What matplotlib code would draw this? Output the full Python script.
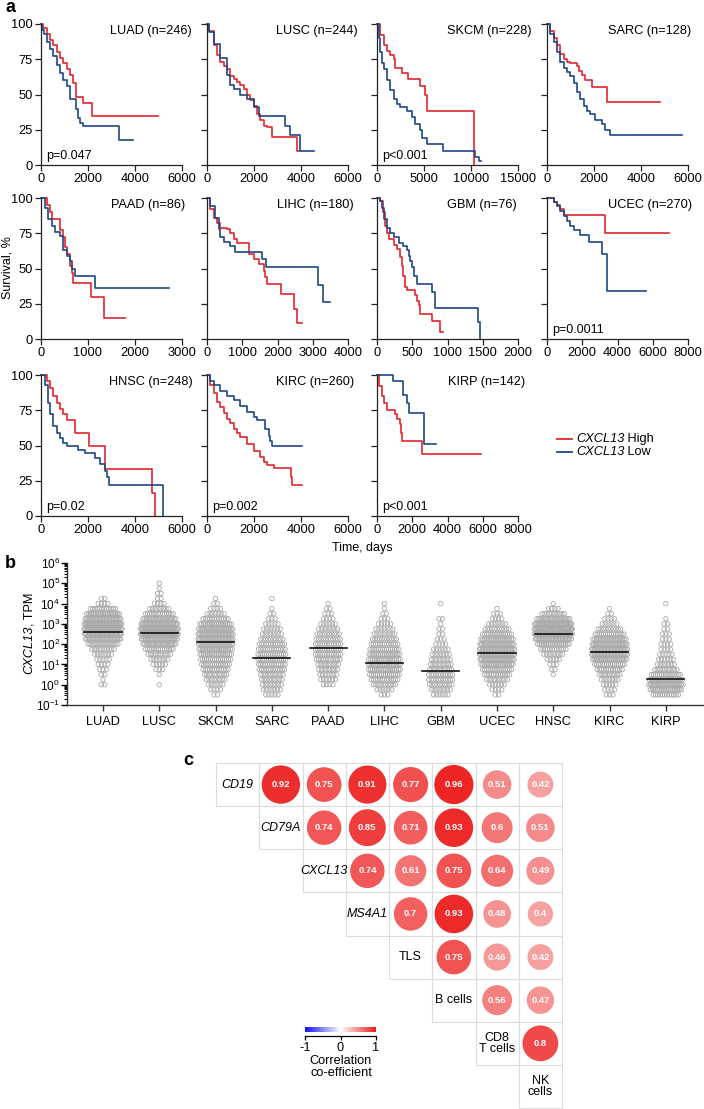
import numpy as np
import matplotlib
matplotlib.use('Agg')
import matplotlib.pyplot as plt
from matplotlib.colors import LinearSegmentedColormap, Normalize
from matplotlib.lines import Line2D
from matplotlib.patches import Rectangle
from matplotlib.ticker import LogLocator, LogFormatterMathtext, NullFormatter

plt.rcParams['font.family'] = 'Liberation Sans'
plt.rcParams['mathtext.fontset'] = 'custom'
plt.rcParams['mathtext.rm'] = 'Liberation Sans'
plt.rcParams['mathtext.it'] = 'Liberation Sans:italic'
plt.rcParams['mathtext.bf'] = 'Liberation Sans:bold'

#%% data - panel a (Kaplan-Meier, (day, survival %) steps)

km_names = ['LUAD', 'LUSC', 'SKCM', 'SARC', 'PAAD', 'LIHC', 'GBM', 'UCEC', 'HNSC', 'KIRC', 'KIRP']
km_n = [246, 244, 228, 128, 86, 180, 76, 270, 248, 260, 142]
km_p = ['p=0.047', None, 'p<0.001', None, None, None, None, 'p=0.0011', 'p=0.02', 'p=0.002', 'p<0.001']
km_xmax = [6000, 6000, 15000, 6000, 3000, 4000, 2000, 8000, 6000, 6000, 8000]
km_xstep = [2000, 2000, 5000, 2000, 1000, 1000, 500, 2000, 2000, 2000, 2000]

luad_high = [(0, 100), (100, 97), (240, 93), (380, 89), (520, 85), (660, 80), (800, 76), (950, 72), (1090, 68),
             (1230, 64), (1370, 58), (1480, 52), (1510, 48), (1790, 44), (2190, 35), (4970, 35)]
luad_low = [(0, 100), (60, 96), (130, 93), (240, 87), (380, 82), (520, 77), (660, 71), (800, 65), (950, 60),
            (1090, 56), (1230, 47), (1480, 40), (1580, 33), (1650, 30), (1770, 28), (3320, 18), (3910, 18)]
lusc_high = [(0, 100), (70, 95), (280, 85), (425, 78), (570, 73), (710, 70), (850, 68), (990, 63), (1135, 61),
             (1280, 59), (1420, 57), (1560, 54), (1700, 50), (1840, 46), (1990, 42), (2130, 36), (2270, 32),
             (2410, 28), (2550, 27), (2770, 20), (3830, 10), (3900, 10)]
lusc_low = [(0, 100), (70, 94), (280, 86), (570, 76), (850, 64), (990, 57), (1135, 54), (1420, 50), (1700, 47),
            (1990, 41), (2200, 35), (3330, 28), (3550, 21), (3940, 10), (4540, 10)]
skcm_high = [(0, 100), (350, 92), (700, 85), (1060, 81), (1410, 78), (1760, 75), (1940, 69), (2640, 65),
             (3350, 61), (4580, 56), (5100, 50), (5280, 38), (10320, 0)]
skcm_low = [(0, 100), (180, 90), (350, 80), (530, 72), (700, 68), (1060, 60), (1410, 53), (1760, 47), (2110, 43),
            (2460, 41), (3170, 38), (3700, 34), (4050, 29), (4580, 25), (4800, 19), (5280, 15), (7000, 10),
            (10400, 6), (10900, 3), (11100, 3)]
sarc_high = [(0, 100), (140, 95), (280, 90), (425, 85), (570, 79), (710, 75), (850, 73), (990, 72), (1280, 70),
             (1350, 67), (1490, 64), (1630, 60), (1915, 55), (2550, 45), (4820, 45)]
sarc_low = [(0, 100), (140, 93), (280, 87), (425, 80), (570, 73), (710, 69), (850, 66), (990, 63), (1135, 58),
            (1280, 52), (1420, 47), (1560, 42), (1700, 38), (1840, 36), (2060, 32), (2340, 29), (2480, 25),
            (2670, 21), (5740, 21)]
paad_high = [(0, 100), (120, 95), (190, 90), (225, 85), (400, 77), (470, 72), (510, 65), (545, 60), (610, 52),
             (650, 47), (685, 40), (1060, 30), (1330, 15), (1780, 15)]
paad_low = [(0, 100), (85, 93), (155, 85), (225, 80), (300, 76), (400, 73), (470, 63), (545, 59), (610, 55),
            (650, 50), (720, 45), (1140, 36), (2730, 36)]
lihc_high = [(0, 100), (95, 92), (190, 86), (285, 82), (380, 79), (570, 78), (660, 75), (760, 71), (850, 68),
             (1180, 60), (1320, 57), (1465, 53), (1610, 48), (1650, 44), (1700, 39), (2100, 32), (2480, 21),
             (2550, 11), (2700, 11)]
lihc_low = [(0, 100), (95, 94), (240, 86), (330, 78), (380, 72), (470, 69), (660, 66), (800, 62), (1560, 57),
            (1680, 51), (3140, 38), (3290, 26), (3500, 26)]
gbm_high = [(0, 100), (47, 98), (85, 90), (120, 80), (140, 75), (165, 71), (235, 67), (280, 64), (330, 58),
            (355, 52), (375, 45), (400, 37), (420, 35), (540, 31), (565, 27), (590, 24), (610, 18), (775, 13),
            (895, 5), (940, 5)]
gbm_low = [(0, 100), (38, 98), (70, 93), (95, 85), (140, 79), (190, 75), (235, 72), (305, 68), (375, 66),
           (425, 63), (450, 59), (470, 55), (495, 51), (520, 45), (565, 39), (775, 33), (825, 22), (1435, 12),
           (1460, 0)]
ucec_high = [(0, 100), (380, 97), (570, 95), (760, 92), (945, 88), (3270, 75), (6900, 75)]
ucec_low = [(0, 100), (380, 97), (570, 94), (760, 91), (945, 87), (1130, 84), (1320, 80), (1510, 77), (1890, 74),
            (2360, 69), (3120, 60), (3400, 34), (5630, 34)]
hnsc_high = [(0, 100), (240, 96), (380, 91), (525, 85), (670, 80), (810, 76), (950, 72), (1090, 68), (1450, 59),
             (2060, 50), (2720, 33), (4710, 16), (4850, 0)]
hnsc_low = [(0, 100), (170, 93), (310, 80), (380, 72), (525, 64), (670, 59), (810, 55), (950, 52), (1090, 50),
            (1590, 47), (1870, 45), (2300, 41), (2510, 37), (2720, 32), (2790, 28), (2910, 22), (5180, 0)]
kirc_high = [(0, 100), (140, 93), (280, 87), (425, 81), (570, 77), (710, 73), (850, 69), (990, 66), (1135, 62),
             (1280, 59), (1420, 56), (1700, 51), (1990, 46), (2270, 42), (2410, 38), (2550, 36), (2840, 34),
             (3570, 28), (3620, 22), (4040, 22)]
kirc_low = [(0, 100), (140, 96), (280, 93), (570, 89), (850, 85), (1135, 82), (1420, 78), (1700, 74), (1990, 70),
            (2130, 68), (2480, 62), (2620, 57), (2700, 53), (2770, 50), (4040, 50)]
kirp_high = [(0, 100), (140, 92), (280, 85), (375, 80), (565, 75), (1035, 72), (1130, 69), (1280, 65),
             (1355, 59), (1430, 53), (2580, 44), (5900, 44)]
kirp_low = [(0, 100), (900, 96), (1470, 86), (1700, 80), (1790, 73), (2670, 51), (3350, 51)]

km_high = [luad_high, lusc_high, skcm_high, sarc_high, paad_high, lihc_high, gbm_high, ucec_high, hnsc_high,
           kirc_high, kirp_high]
km_low = [luad_low, lusc_low, skcm_low, sarc_low, paad_low, lihc_low, gbm_low, ucec_low, hnsc_low,
          kirc_low, kirp_low]
legend_words = ['High', 'Low']

#%% data - panel b (counts of samples per 0.25-decade bin of log10 TPM)

tpm_bins = [-0.5, -0.25, 0, 0.25, 0.5, 0.75, 1.0, 1.25, 1.5, 1.75, 2.0, 2.25, 2.5, 2.75, 3.0, 3.25, 3.5,
            3.75, 4.0, 4.25, 4.5, 4.75, 5.0]
tpm_counts = [
    [0, 0, 2, 1, 2, 3, 4, 5, 7, 10, 16, 24, 30, 34, 32, 26, 20, 12, 4, 2, 0, 0, 0],     # LUAD
    [0, 0, 1, 0, 1, 3, 5, 7, 10, 14, 20, 26, 32, 34, 28, 20, 14, 8, 4, 2, 2, 1, 1],     # LUSC
    [2, 4, 6, 8, 10, 12, 14, 16, 18, 20, 22, 24, 24, 22, 18, 12, 7, 4, 2, 1, 0, 0, 0],  # SKCM
    [5, 7, 8, 9, 10, 12, 13, 14, 14, 13, 12, 10, 8, 7, 5, 3, 2, 1, 0, 1, 0, 0, 0],      # SARC
    [0, 0, 4, 6, 7, 8, 9, 11, 12, 12, 12, 11, 10, 8, 6, 4, 3, 2, 1, 0, 0, 0, 0],        # PAAD
    [3, 6, 10, 13, 16, 18, 19, 18, 17, 15, 13, 11, 9, 7, 5, 3, 2, 1, 1, 0, 0, 0, 0],    # LIHC
    [6, 8, 10, 11, 11, 10, 9, 8, 7, 6, 4, 3, 2, 2, 1, 2, 0, 0, 1, 0, 0, 0, 0],          # GBM
    [2, 4, 6, 9, 12, 15, 19, 22, 24, 24, 22, 19, 15, 11, 7, 4, 3, 1, 0, 0, 0, 0, 0],    # UCEC
    [0, 0, 0, 0, 1, 2, 3, 5, 8, 12, 18, 26, 34, 36, 30, 20, 10, 4, 1, 0, 0, 0, 0],      # HNSC
    [3, 4, 5, 7, 9, 12, 16, 22, 26, 26, 24, 20, 15, 10, 6, 4, 2, 1, 0, 0, 0, 0, 0],     # KIRC
    [12, 18, 22, 20, 15, 10, 7, 6, 5, 4, 4, 3, 3, 2, 2, 1, 0, 0, 1, 0, 0, 0, 0],        # KIRP
]
tpm_median = [2.6, 2.55, 2.1, 1.33, 1.79, 1.05, 0.66, 1.56, 2.52, 1.59, 0.28]

#%% data - panel c (correlation, upper triangle)

corr_labels = ['CD19', 'CD79A', 'CXCL13', 'MS4A1', 'TLS', 'B cells', 'CD8\nT cells', 'NK\ncells']
corr_italic = [True, True, True, True, False, False, False, False]
corr_rows = [[0.92, 0.75, 0.91, 0.77, 0.96, 0.51, 0.42],
             [0.74, 0.85, 0.71, 0.93, 0.6, 0.51],
             [0.74, 0.61, 0.75, 0.64, 0.49],
             [0.7, 0.93, 0.48, 0.4],
             [0.75, 0.46, 0.42],
             [0.56, 0.47],
             [0.8]]

#%% layout helpers

W, H = 704, 1109
RED = '#e3262b'
BLUE = '#1f4785'


def rect(x, y, w, h):
    return [x / W, 1 - (y + h) / H, w / W, h / H]


fig = plt.figure(figsize=(W / 100, H / 100), dpi=100)

#%% panel a

col_x = [41, 207, 377, 547]
row_y = [24, 198, 375]
title_dx = [10, 10, 14, 3, 3, 6, -1, 4, 11, 6, 7]

for k, name in enumerate(km_names):
    r, c = divmod(k, 4)
    ax = fig.add_axes(rect(col_x[c], row_y[r], 141, 141))
    for curve, col in ((km_high[k], RED), (km_low[k], BLUE)):
        t, s = zip(*curve)
        ax.step(t, s, where='post', color=col, lw=1.2, clip_on=False)
    ax.set_xlim(0, km_xmax[k])
    ax.set_ylim(0, 100)
    ax.set_xticks(np.arange(0, km_xmax[k] + 1, km_xstep[k]))
    ax.set_yticks([0, 25, 50, 75, 100])
    if c != 0:
        ax.set_yticklabels([])
    for sp in ('top', 'right'):
        ax.spines[sp].set_visible(False)
    for sp in ('left', 'bottom'):
        ax.spines[sp].set_linewidth(0.9)
        ax.spines[sp].set_color('#222222')
    ax.tick_params(direction='out', length=4, width=0.9, labelsize=9.3, pad=2, color='#222222')
    ax.text(1 + title_dx[k] / 141, 0.95, f"{name} (n={km_n[k]})", transform=ax.transAxes,
            ha='right', va='center', fontsize=9.2)
    if km_p[k]:
        ax.text(0.035, 0.065, km_p[k], transform=ax.transAxes, ha='left', va='center', fontsize=9)

fig.text(8 / W, 1 - 268 / H, 'Survival, %', rotation=90, ha='center', va='center', fontsize=9)
fig.text(362 / W, 1 - 548 / H, 'Time, days', ha='center', va='center', fontsize=9)

# legend: line + italic gene name + plain group word
for yy, col, word in zip((439, 452), (RED, BLUE), legend_words):
    fig.add_artist(Line2D([557 / W, 572 / W], [1 - yy / H] * 2, color=col, lw=1.3))
    gene = fig.text(576 / W, 1 - yy / H, 'CXCL13', style='italic', fontsize=9.2, va='center', ha='left')
    ax.annotate(' ' + word, xy=(1, 0.5), xycoords=gene, ha='left', va='center', fontsize=9.2,
                annotation_clip=False)

#%% panel b

PX_PER_UNIT = 56.3
axb = fig.add_axes(rect(67, 563, 636, 142))
for k, counts in enumerate(tpm_counts):
    for b, n in enumerate(counts):
        if n == 0:
            continue
        # swarm row width in pixels grows with the number of points, saturating near 38 px
        width_px = min(4.2 * (n - 1), 40 * (1 - np.exp(-(n - 1) / 11)))
        xs = k + np.linspace(-width_px / 2, width_px / 2, n) / PX_PER_UNIT
        ys = np.full(n, 10.0 ** tpm_bins[b])
        axb.scatter(xs, ys, s=10, facecolors='none', edgecolors='#a8a8a8', linewidths=0.6, clip_on=False)
    axb.plot([k - 0.33, k + 0.33], [10 ** tpm_median[k]] * 2, color='#111111', lw=1.2)

axb.set_yscale('log')
axb.set_ylim(1e-1, 1e6)
axb.set_xlim(-0.64, 10.66)
axb.set_xticks(range(len(km_names)))
axb.set_xticklabels(km_names, fontsize=9.2)
axb.yaxis.set_major_locator(LogLocator(base=10, numticks=10))
axb.yaxis.set_major_formatter(LogFormatterMathtext())
axb.yaxis.set_minor_locator(LogLocator(base=10, subs=np.arange(2, 10), numticks=20))
axb.yaxis.set_minor_formatter(NullFormatter())
for sp in ('top', 'right'):
    axb.spines[sp].set_visible(False)
for sp in ('left', 'bottom'):
    axb.spines[sp].set_linewidth(1.0)
    axb.spines[sp].set_color('#333333')
axb.tick_params(axis='x', direction='out', length=4, width=1, pad=4, color='#333333')
axb.tick_params(axis='y', which='major', direction='out', length=4, width=1, labelsize=8.5, pad=1)
axb.tick_params(axis='y', which='minor', direction='out', length=2, width=0.7)

ylab = fig.text(29 / W, 1 - 674 / H, 'CXCL13', style='italic', rotation=90, fontsize=9.2,
                ha='center', va='bottom')
axb.annotate(', TPM', xy=(0.5, 1), xycoords=ylab, rotation=90, ha='center', va='bottom', fontsize=9.2,
             annotation_clip=False)

#%% panel c

axc = fig.add_axes(rect(216, 763, 346, 345))
axc.set_xlim(0, 8)
axc.set_ylim(8, 0)
axc.axis('off')

cmap = LinearSegmentedColormap.from_list('corr', ['#1010ff', '#ffffff', '#ec1c1c'])
norm = Normalize(-1, 1)

for i, lab in enumerate(corr_labels):
    for j in range(i, 8):
        axc.add_patch(Rectangle((j, i), 1, 1, fill=False, ec='#dcdcdc', lw=0.8, clip_on=False))
    axc.text(i + 0.5, i + 0.5, lab, ha='center', va='center', fontsize=9, linespacing=0.95,
             style='italic' if corr_italic[i] else 'normal')
    if i < 7:
        for jj, val in enumerate(corr_rows[i]):
            j = i + 1 + jj
            d = 40 * np.sqrt(val) * 0.72
            axc.scatter(j + 0.5, i + 0.5, s=d ** 2, color=cmap(norm(val)), edgecolors='none', clip_on=False)
            axc.text(j + 0.5, i + 0.5, f"{val:g}", ha='center', va='center', fontsize=6.8,
                     color='white', fontweight='bold')

cax = fig.add_axes(rect(305, 1027, 71, 5))
cax.imshow(np.linspace(-1, 1, 256)[None, :], cmap=cmap, norm=norm, extent=(-1, 1, 0, 1), aspect='auto')
for sp in ('top', 'left', 'right'):
    cax.spines[sp].set_visible(False)
cax.spines['bottom'].set_position(('outward', 3))
cax.spines['bottom'].set_linewidth(0.9)
cax.set_yticks([])
cax.set_xticks([-1, 0, 1])
cax.set_xticklabels(['-1', '0', '1'])
cax.tick_params(axis='x', direction='out', length=3, width=0.9, labelsize=9.2, pad=1)
fig.text(341 / W, 1 - 1067 / H, 'Correlation\nco-efficient', ha='center', va='center', fontsize=9.2,
         linespacing=0.95)

#%% panel letters

fig.text(5 / W, 1 - 12 / H, 'a', fontsize=13, fontweight='bold', va='baseline')
fig.text(5 / W, 1 - 568 / H, 'b', fontsize=13, fontweight='bold', va='baseline')
fig.text(183 / W, 1 - 765 / H, 'c', fontsize=13, fontweight='bold', va='baseline')

fig.savefig('out.png', dpi=100)
